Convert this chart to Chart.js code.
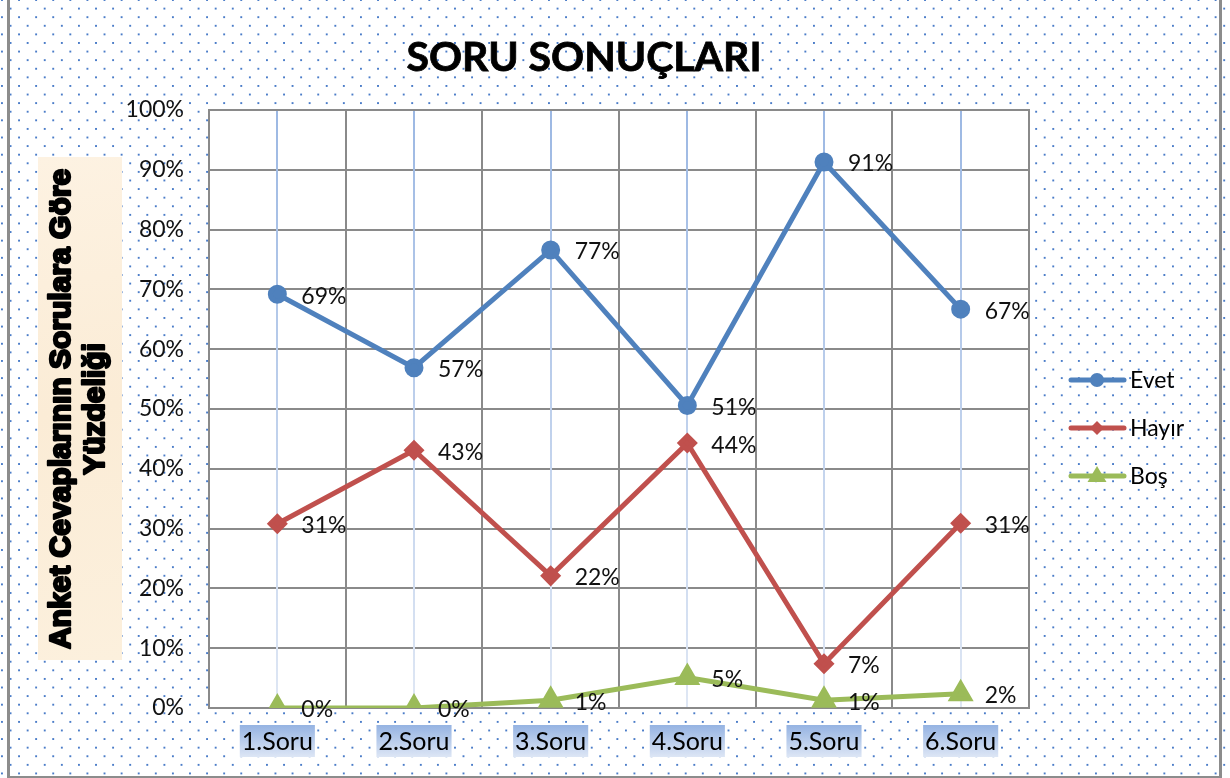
<!DOCTYPE html>
<html>
<head>
<meta charset="utf-8">
<script src="https://cdn.jsdelivr.net/npm/chart.js@4.4.0/dist/chart.umd.min.js"></script>
<style>
  body { margin: 0; background: #fff; }
  #wrap {
    position: relative; width: 1230px; height: 778px; overflow: hidden;
    background-color: #fff;
    background-image:
      radial-gradient(circle, #4a7cc8 0, #4a7cc8 0.8px, rgba(74,124,200,0) 1.5px),
      radial-gradient(circle, #4a7cc8 0, #4a7cc8 0.8px, rgba(74,124,200,0) 1.5px);
    background-size: 17.1px 17.2px;
    background-position: 2px 0, 10.5px 8.6px;
  }
  #frame {
    position: absolute; left: 7px; top: -4px; width: 1209px; height: 777px;
    border: 3px solid #8c8c8c;
  }
  canvas { position: absolute; left: 0; top: 0; }
</style>
</head>
<body>
<div id="wrap">
  <canvas id="chart" width="1230" height="778"></canvas>
  <div id="frame"></div>
</div>
<script>
const categories = ['1.Soru', '2.Soru', '3.Soru', '4.Soru', '5.Soru', '6.Soru'];
const evet = [0.692, 0.569, 0.766, 0.506, 0.913, 0.667];
const hayir = [0.308, 0.431, 0.221, 0.443, 0.074, 0.309];
const bos = [0, 0, 0.013, 0.051, 0.013, 0.024];
const yTicks = [0, 0.1, 0.2, 0.3, 0.4, 0.5, 0.6, 0.7, 0.8, 0.9, 1];

const titleText = 'SORU SONUÇLARI';
const yTitle = ['Anket Cevaplarının Sorulara Göre', 'Yüzdeliği'];
const FONT = 'Lato, "Open Sans", sans-serif';

const colors = { evet: '#4f81bd', hayir: '#c0504d', bos: '#9bbb59' };

function pct(v) { return Math.round(v * 100) + '%'; }

function marker(ctx, style, x, y, r) {
  ctx.beginPath();
  if (style === 'circle') {
    ctx.arc(x, y, r, 0, Math.PI * 2);
  } else if (style === 'rectRot') {
    ctx.moveTo(x, y - r); ctx.lineTo(x + r, y); ctx.lineTo(x, y + r); ctx.lineTo(x - r, y);
  } else {
    ctx.moveTo(x, y - r); ctx.lineTo(x + r * 0.95, y + r * 0.6); ctx.lineTo(x - r * 0.95, y + r * 0.6);
  }
  ctx.closePath();
  ctx.fill();
}

const decor = {
  id: 'decor',
  beforeDraw(chart) {
    const { ctx, chartArea: a, scales } = chart;
    ctx.save();
    ctx.fillStyle = '#fff';
    ctx.fillRect(a.left, a.top, a.right - a.left, a.bottom - a.top);

    // title
    ctx.fillStyle = '#000';
    ctx.strokeStyle = '#000';
    ctx.lineWidth = 0.8;
    ctx.font = 'bold 41px ' + FONT;
    ctx.textAlign = 'center';
    ctx.textBaseline = 'middle';
    ctx.fillText(titleText, 584, 58);
    ctx.strokeText(titleText, 584, 58);

    // y axis title box
    const g = ctx.createLinearGradient(38, 157, 122, 660);
    g.addColorStop(0, '#fdf2e2');
    g.addColorStop(0.5, '#fbecd6');
    g.addColorStop(1, '#fcf0dd');
    ctx.fillStyle = g;
    ctx.fillRect(38, 157, 84, 503);
    ctx.translate(0, 409);
    ctx.rotate(-Math.PI / 2);
    ctx.fillStyle = '#000';
    ctx.strokeStyle = '#000';
    ctx.lineWidth = 2.4;
    ctx.lineJoin = 'round';
    ctx.font = 'bold 30px "Liberation Sans", Arial, sans-serif';
    ctx.fillText(yTitle[0], 0, 62);
    ctx.strokeText(yTitle[0], 0, 62);
    ctx.fillText(yTitle[1], 0, 96);
    ctx.strokeText(yTitle[1], 0, 96);
    ctx.restore();

    // x label backdrops
    ctx.save();
    ctx.font = '25px ' + FONT;
    const x = scales.x;
    categories.forEach((c, i) => {
      const cx = x.getPixelForTick(i);
      const w = ctx.measureText(c).width + 4;
      const bg = ctx.createLinearGradient(0, 725, 0, 757);
      bg.addColorStop(0, '#95b3e2');
      bg.addColorStop(1, '#dde6f5');
      ctx.fillStyle = bg;
      ctx.fillRect(cx - w / 2, 725, w, 32);
    });
    ctx.restore();
  },
  beforeDatasetsDraw(chart) {
    const { ctx, chartArea: a, scales: { x } } = chart;
    ctx.save();
    const g = ctx.createLinearGradient(0, a.top, 0, a.bottom);
    g.addColorStop(0, '#9cb8e3');
    g.addColorStop(1, '#dfe7f4');
    ctx.strokeStyle = g;
    ctx.lineWidth = 2;
    categories.forEach((c, i) => {
      const px = Math.round(x.getPixelForTick(i));
      ctx.beginPath();
      ctx.moveTo(px, a.top);
      ctx.lineTo(px, a.bottom);
      ctx.stroke();
    });
    ctx.strokeStyle = '#8a8a8a';
    ctx.lineWidth = 2;
    ctx.strokeRect(a.left, a.top, a.right - a.left, a.bottom - a.top);
    ctx.restore();
  },
  afterDatasetsDraw(chart) {
    const { ctx } = chart;
    ctx.save();
    ctx.fillStyle = '#111';
    ctx.font = '23px ' + FONT;
    ctx.textAlign = 'left';
    ctx.textBaseline = 'middle';
    chart.data.datasets.forEach((ds, di) => {
      chart.getDatasetMeta(di).data.forEach((pt, i) => {
        ctx.fillText(pct(ds.data[i]), pt.x + 24, pt.y + 2);
      });
    });
    ctx.restore();
  },
  afterDraw(chart) {
    const { ctx } = chart;
    ctx.save();
    ctx.font = '23px ' + FONT;
    ctx.textBaseline = 'middle';
    const rows = [
      ['Evet', colors.evet, 'circle', 7, 380],
      ['Hayır', colors.hayir, 'rectRot', 7, 428],
      ['Boş', colors.bos, 'triangle', 10, 476]
    ];
    rows.forEach(([label, col, style, r, y]) => {
      ctx.strokeStyle = col;
      ctx.fillStyle = col;
      ctx.lineWidth = 5;
      ctx.lineCap = 'round';
      ctx.beginPath();
      ctx.moveTo(1071, y);
      ctx.lineTo(1124, y);
      ctx.stroke();
      marker(ctx, style, 1097, y, r);
      ctx.fillStyle = '#000';
      ctx.fillText(label, 1130, y + 1);
    });
    ctx.restore();
  }
};

const ctx = document.getElementById('chart').getContext('2d');
new Chart(ctx, {
  type: 'line',
  data: {
    labels: categories,
    datasets: [
      { label: 'Evet', data: evet, borderColor: colors.evet, backgroundColor: colors.evet,
        pointStyle: 'circle', pointRadius: 7, borderWidth: 5 },
      { label: 'Hayır', data: hayir, borderColor: colors.hayir, backgroundColor: colors.hayir,
        pointStyle: 'rectRot', pointRadius: 7, borderWidth: 5 },
      { label: 'Boş', data: bos, borderColor: colors.bos, backgroundColor: colors.bos,
        pointStyle: 'triangle', pointRadius: 10, borderWidth: 5 }
    ]
  },
  options: {
    responsive: false,
    animation: false,
    devicePixelRatio: 1,
    layout: { padding: { top: 110, right: 201, left: 0, bottom: 0 } },
    plugins: { legend: { display: false }, title: { display: false }, tooltip: { enabled: false } },
    elements: { line: { tension: 0 }, point: { borderWidth: 0 } },
    scales: {
      x: {
        offset: true,
        grid: { offset: true, color: '#8a8a8a', lineWidth: 2, drawTicks: false },
        border: { color: '#8a8a8a', width: 2 },
        ticks: { color: '#000', font: { family: FONT, size: 25 }, padding: 19, maxRotation: 0 },
        afterFit(s) { s.height = 70; }
      },
      y: {
        min: 0, max: 1,
        afterBuildTicks(s) { s.ticks = yTicks.map(v => ({ value: v })); },
        grid: { color: '#8a8a8a', lineWidth: 2, drawTicks: false },
        border: { color: '#8a8a8a', width: 2 },
        ticks: { color: '#111', font: { family: FONT, size: 23 }, padding: 25, callback: v => pct(v) },
        afterFit(s) { s.width = 209; }
      }
    }
  },
  plugins: [decor]
});
</script>
</body>
</html>
